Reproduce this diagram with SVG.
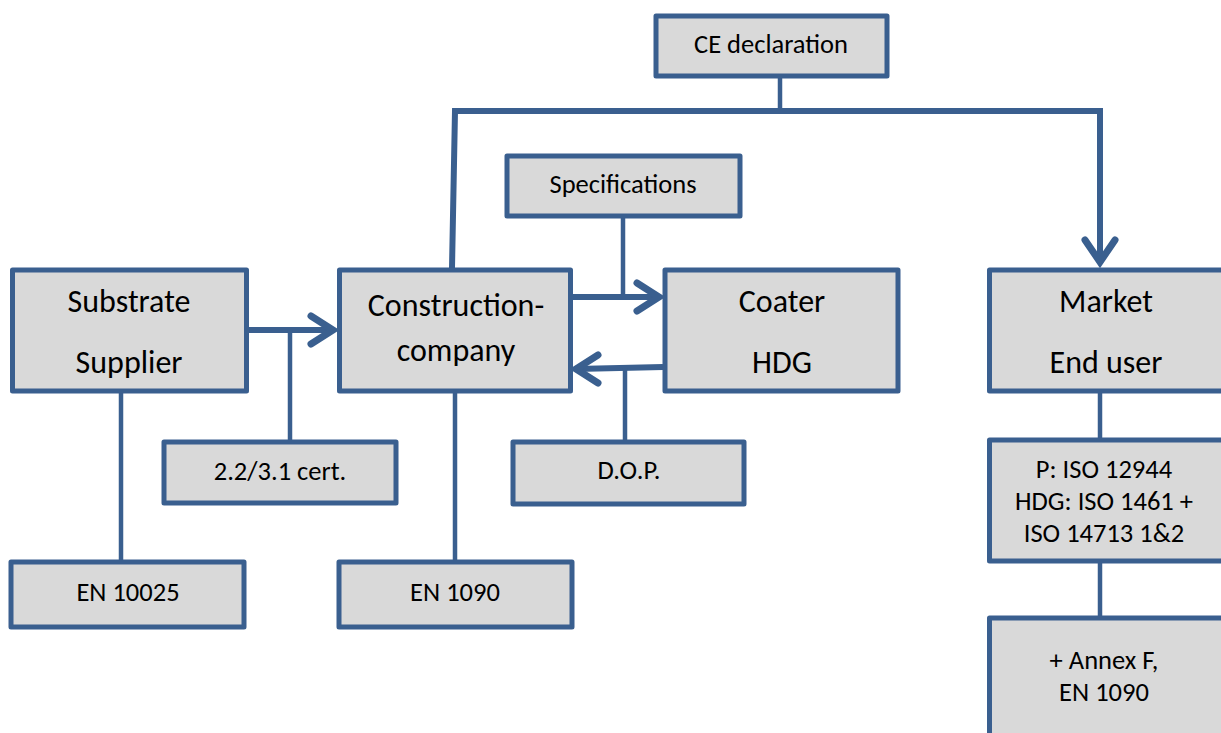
<svg xmlns="http://www.w3.org/2000/svg" width="1221" height="733" viewBox="0 0 1221 733">
<style>
.box{fill:#D9D9D9;stroke:#3A5F8F;stroke-width:5;stroke-linejoin:round}
.t{font-family:Carlito,Lato,"Liberation Sans",sans-serif;fill:#000;text-anchor:middle}
.big{font-size:32px}
.sm{font-size:26.5px}
.c{stroke:#3A5F8F;fill:none;stroke-linecap:butt}
.thin{stroke-width:4.5}
.thick{stroke-width:6}
.head{stroke:#3A5F8F;fill:none;stroke-width:7;stroke-linecap:round;stroke-linejoin:miter}
</style>
<rect width="1221" height="733" fill="#fff"/>
<g id="connectors">
<line class="c thin" x1="780" y1="77" x2="780" y2="108"/>
<polyline class="c thick" points="452,268 455,111 1100,111 1100,262"/>
<polyline class="head" points="1085,240 1100,262 1115,240"/>
<line class="c thick" x1="248" y1="330" x2="333" y2="330"/>
<polyline class="head" points="311,316 333,330 311,344"/>
<line class="c thin" x1="290" y1="330" x2="290" y2="441"/>
<line class="c thin" x1="121" y1="391" x2="121" y2="561"/>
<line class="c thin" x1="455" y1="391" x2="455" y2="561"/>
<line class="c thin" x1="623" y1="217" x2="623" y2="297"/>
<line class="c thick" x1="573" y1="297" x2="659" y2="297"/>
<polyline class="head" points="637,283 659,297 637,311"/>
<line class="c thick" x1="663" y1="367" x2="576" y2="369"/>
<polyline class="head" points="598,355 576,369 598,383"/>
<line class="c thin" x1="625" y1="368" x2="625" y2="441"/>
<line class="c thin" x1="1100" y1="391" x2="1100" y2="439"/>
<line class="c thin" x1="1100" y1="562" x2="1100" y2="617"/>
</g>
<g id="ce"><rect class="box" x="656" y="16" width="231" height="60"/><text class="t sm" x="771" y="53">CE declaration</text></g>
<g id="spec"><rect class="box" x="507" y="156" width="233" height="60"/><text class="t sm" x="623" y="193">Specifications</text></g>
<g id="substrate"><rect class="box" x="12.5" y="270" width="234" height="121"/><text class="t big" x="129" y="312">Substrate</text><text class="t big" x="129" y="373">Supplier</text></g>
<g id="construction"><rect class="box" x="339.5" y="270" width="231" height="121"/><text class="t big" x="456" y="316">Construction-</text><text class="t big" x="456" y="361">company</text></g>
<g id="coater"><rect class="box" x="665" y="270" width="233" height="121"/><text class="t big" x="782" y="312">Coater</text><text class="t big" x="782" y="373">HDG</text></g>
<g id="market"><rect class="box" x="989.5" y="270" width="240" height="121"/><text class="t big" x="1106" y="312">Market</text><text class="t big" x="1106" y="373">End user</text></g>
<g id="cert"><rect class="box" x="164" y="442" width="232" height="61"/><text class="t sm" x="280" y="480">2.2/3.1 cert.</text></g>
<g id="dop"><rect class="box" x="513" y="442" width="231" height="62"/><text class="t sm" x="629" y="479">D.O.P.</text></g>
<g id="en10025"><rect class="box" x="11" y="562" width="233" height="65"/><text class="t sm" x="128" y="601">EN 10025</text></g>
<g id="en1090"><rect class="box" x="339" y="562" width="233" height="65"/><text class="t sm" x="455" y="601">EN 1090</text></g>
<g id="iso"><rect class="box" x="989.5" y="440" width="240" height="121"/><text class="t sm" x="1104" y="478">P: ISO 12944</text><text class="t sm" x="1104" y="510">HDG: ISO 1461 +</text><text class="t sm" x="1104" y="542">ISO 14713 1&amp;2</text></g>
<g id="annex"><rect class="box" x="989.5" y="618" width="240" height="130"/><text class="t sm" x="1104" y="669">+ Annex F,</text><text class="t sm" x="1104" y="701">EN 1090</text></g>
</svg>
